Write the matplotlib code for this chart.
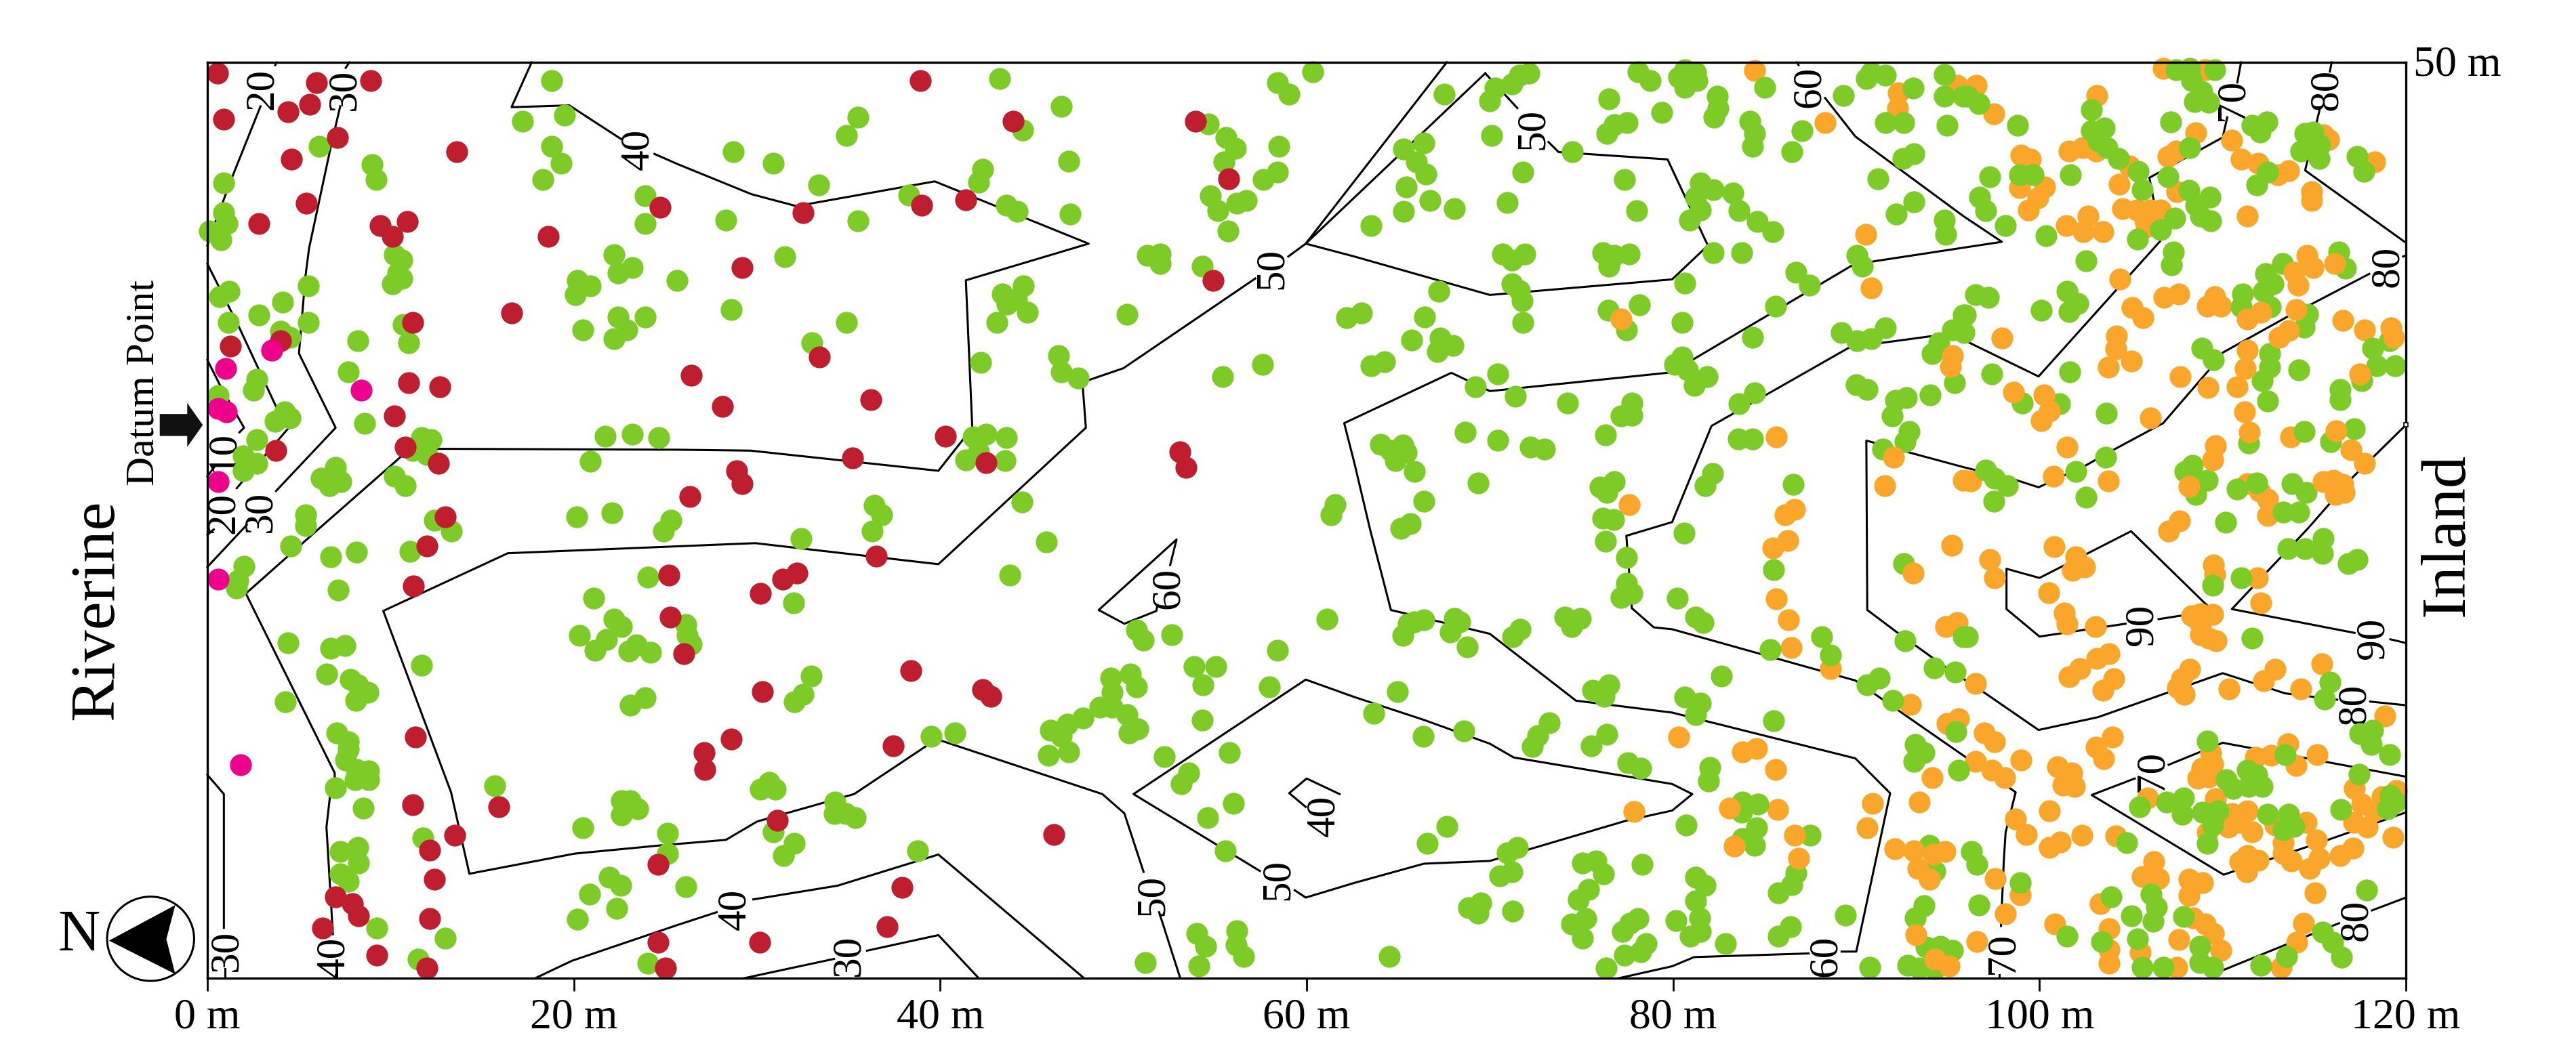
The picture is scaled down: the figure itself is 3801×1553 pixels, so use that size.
"""Tree positions over elevation contours, riverine to inland transect (0-120 m by 0-50 m)."""

import matplotlib

matplotlib.use("Agg")
import matplotlib.pyplot as plt
import numpy as np
from matplotlib.patches import Ellipse, Polygon

plt.rcParams["font.family"] = ["Liberation Serif", "DejaVu Serif"]

# ---- tree positions, metres along / across the plot ----
RED = [
    (.54, 49.4), (5.96, 48.9), (8.93, 49.0), (5.6, 47.7), (4.4, 47.3), (.9, 46.9), (7.1, 45.9), (4.6, 44.7),
    (13.6, 45.1), (5.4, 42.3), (2.8, 41.2), (9.45, 41.1), (10.9, 41.3), (10.1, 40.5), (24.7, 42.1), (18.6, 40.5),
    (16.6, 36.3), (11.2, 35.8), (4.0, 34.8), (1.25, 34.5), (11.0, 32.5), (12.7, 32.3), (10.2, 30.7), (3.75, 28.8),
    (10.8, 29.0), (12.6, 28.1), (13.0, 25.2), (12.0, 23.6), (25.2, 22.0), (11.25, 21.4), (25.25, 19.7), (26.0, 17.7),
    (11.35, 13.15), (11.2, 9.45), (15.9, 9.35), (13.5, 7.8), (12.15, 7.0), (24.6, 6.2), (12.4, 5.4), (7.0, 4.45),
    (7.9, 4.05), (8.25, 3.4), (6.3, 2.75), (12.15, 3.25), (9.25, 1.25), (12.0, .55), (24.6, 1.95), (25.0, .55),
    (38.9, 49.0), (44.0, 46.8), (53.95, 46.8), (55.75, 43.65), (32.5, 41.8), (39.0, 42.2), (41.4, 42.5), (29.2, 38.8),
    (33.4, 33.9), (26.4, 32.9), (28.1, 31.2), (36.2, 31.6), (40.3, 29.6), (35.2, 28.4), (42.5, 28.15), (28.9, 27.7),
    (29.2, 27.0), (26.35, 26.3), (54.9, 38.1), (53.1, 28.75), (53.4, 27.9), (36.5, 23.05), (32.2, 22.1), (31.4, 21.8),
    (30.2, 21.0), (38.4, 16.8), (30.3, 15.65), (42.3, 15.75), (42.75, 15.4), (28.6, 13.05), (27.1, 12.3), (27.15, 11.4),
    (37.45, 12.7), (31.1, 8.6), (46.2, 7.85), (37.9, 4.95), (37.1, 2.8), (30.15, 1.95),
]
PINK = [
    (3.5, 34.3), (1.0, 33.3), (8.4, 32.1), (.6, 31.1), (1.05, 30.9), (.6, 27.1), (.6, 21.8), (1.8, 11.65),
]
GREEN = [
    # 0-25 m
    (18.8, 49.0), (17.2, 46.8), (19.5, 47.1), (18.8, 45.4), (19.3, 44.5), (18.3, 43.6), (6.1, 45.4), (9.0, 44.4),
    (9.2, 43.6), (23.9, 42.7), (23.9, 41.2), (.9, 43.4), (.9, 41.8), (1.06, 41.2), (.1, 40.8), (.73, 40.3),
    (10.2, 39.5), (10.6, 39.2), (10.4, 38.5), (10.6, 38.2), (10.1, 37.9), (22.2, 39.5), (23.2, 38.8), (22.4, 38.5),
    (20.2, 38.1), (20.9, 37.8), (20.1, 37.3), (25.65, 38.1), (1.2, 37.5), (.66, 37.2), (5.5, 37.8), (4.1, 36.9),
    (2.8, 36.2), (1.15, 35.8), (5.5, 35.8), (4.0, 35.3), (4.5, 35.0), (10.7, 35.7), (11.0, 34.7), (8.2, 34.8),
    (22.4, 36.1), (23.9, 36.1), (22.9, 35.4), (20.5, 35.4), (22.2, 34.9), (2.7, 32.7), (2.5, 32.1), (7.7, 33.1),
    (.6, 31.8), (4.2, 30.9), (4.5, 30.6), (3.7, 30.4), (8.6, 30.3), (2.7, 29.4), (1.95, 28.5), (2.7, 28.1),
    (1.95, 27.7), (11.7, 29.5), (12.2, 29.4), (11.2, 28.8), (12.0, 28.6), (21.7, 29.6), (23.2, 29.7), (24.65, 29.5),
    (20.9, 28.2), (7.0, 27.9), (6.2, 27.3), (7.3, 27.1), (6.65, 26.9), (10.2, 27.4), (10.8, 26.9), (20.15, 25.2),
    (22.1, 25.4), (25.3, 25.0), (24.9, 24.4), (5.35, 25.3), (5.35, 24.7), (12.4, 25.0), (13.3, 24.4), (4.55, 23.6),
    (6.75, 23.0), (8.15, 23.25), (11.05, 23.3), (7.15, 21.2), (2.0, 22.5), (1.65, 21.7), (1.6, 21.3), (24.05, 21.9),
    (21.1, 20.75), (22.2, 19.6), (22.6, 19.2), (20.3, 18.7), (21.8, 18.5), (21.15, 17.9), (23.4, 18.2), (23.0, 17.85),
    (24.2, 17.8), (4.4, 18.3), (6.75, 18.0), (7.5, 18.15), (11.7, 17.1), (6.5, 16.6), (7.8, 16.3), (8.2, 16.0),
    (8.75, 15.6), (8.1, 15.15), (4.25, 15.1), (23.9, 15.3), (23.1, 14.9), (7.05, 13.4), (7.7, 12.9), (7.7, 12.5),
    (7.55, 11.9), (8.15, 11.4), (8.8, 11.3), (8.8, 10.85), (8.05, 10.85), (7.0, 10.4), (8.5, 9.3), (15.7, 10.5),
    (22.6, 9.7), (23.1, 9.7), (23.5, 9.25), (22.6, 8.9), (20.5, 8.2), (11.75, 7.65), (25.1, 7.9), (8.2, 7.15),
    (7.25, 6.9), (8.25, 6.3), (7.25, 5.7), (7.7, 5.3), (25.1, 6.8), (21.95, 5.5), (22.55, 5.05), (20.85, 4.6),
    (22.35, 3.8), (20.2, 3.2), (26.1, 5.0), (9.25, 2.75), (13.0, 2.2), (11.5, 1.05), (24.05, .8),
    # 25-62 m
    (43.25, 49.1), (46.6, 47.6), (58.4, 48.9), (59.05, 48.25), (60.35, 49.5), (35.5, 47.0), (34.9, 46.0), (28.7, 45.1),
    (30.9, 44.5), (33.35, 43.3), (44.5, 46.3), (47.0, 44.6), (54.65, 46.65), (55.6, 45.9), (56.1, 45.3), (55.5, 44.55),
    (58.5, 45.4), (58.4, 44.0), (57.65, 43.6), (42.3, 44.15), (42.1, 43.45), (38.3, 42.75), (43.6, 42.2), (44.2, 41.85),
    (47.1, 41.7), (54.75, 42.7), (55.15, 41.9), (56.7, 42.45), (56.2, 42.3), (55.7, 40.8), (28.3, 41.4), (35.5, 41.35),
    (31.5, 39.4), (51.3, 39.45), (52.0, 39.55), (52.0, 39.0), (54.3, 38.85), (44.55, 37.8), (43.4, 37.35), (44.15, 37.05),
    (43.65, 36.8), (44.75, 36.35), (43.1, 35.8), (28.6, 36.5), (34.9, 35.8), (33.0, 34.7), (50.2, 36.25), (62.2, 36.05),
    (42.2, 33.6), (46.45, 34.0), (46.6, 33.1), (47.55, 32.75), (55.4, 32.85), (57.6, 33.5), (41.8, 29.55), (42.5, 29.7),
    (43.6, 29.5), (42.1, 28.75), (41.4, 28.3), (43.55, 28.25), (44.45, 26.0), (61.55, 25.85), (61.35, 25.3), (36.4, 25.8),
    (36.8, 25.3), (36.3, 24.4), (32.4, 24.0), (45.8, 23.8), (26.1, 19.3), (26.2, 18.7), (26.4, 18.25), (43.8, 22.0),
    (32.0, 20.5), (32.95, 16.5), (32.5, 15.5), (32.05, 15.1), (50.7, 19.0), (51.1, 18.45), (52.65, 18.75), (61.1, 19.6),
    (58.4, 17.9), (49.3, 16.4), (50.4, 16.6), (50.7, 15.9), (49.4, 15.6), (53.85, 17.0), (55.05, 17.0), (54.35, 16.0),
    (57.95, 15.9), (54.3, 14.1), (48.7, 14.8), (49.4, 14.8), (47.8, 14.2), (50.2, 14.4), (46.95, 13.85), (46.0, 13.55),
    (46.6, 13.2), (50.8, 13.6), (50.3, 13.4), (47.0, 12.35), (45.9, 12.15), (52.25, 12.1), (55.8, 12.3), (39.5, 13.2),
    (40.8, 13.4), (30.65, 10.7), (30.2, 10.3), (31.0, 10.3), (53.55, 11.2), (53.15, 10.6), (56.0, 9.55), (54.6, 8.75),
    (34.25, 9.6), (34.2, 9.0), (34.85, 9.0), (35.35, 8.75), (30.9, 8.0), (32.05, 7.35), (31.45, 6.7), (55.55, 6.95),
    (38.75, 6.95), (54.0, 2.45), (54.5, 1.75), (56.2, 2.6), (56.15, 1.8), (56.55, 1.2), (51.2, .85), (54.1, .65),
    # 62-96 m, upper half
    (67.5, 48.25), (70.0, 47.9), (70.3, 48.6), (71.2, 48.8), (71.6, 49.3), (72.15, 49.4), (70.1, 46.0), (66.4, 45.6),
    (65.3, 45.25), (66.0, 44.55), (66.5, 43.9), (65.45, 43.2), (66.75, 42.45), (65.3, 41.85), (68.05, 42.0), (63.5, 41.1),
    (71.8, 44.0), (70.95, 42.35), (74.5, 45.1), (76.5, 48.0), (78.1, 49.5), (78.75, 49.0), (79.4, 47.25), (77.5, 46.7),
    (76.8, 46.6), (76.4, 46.1), (77.35, 43.6), (78.0, 41.9), (80.65, 49.6), (81.25, 49.45), (80.3, 49.2), (81.3, 49.0),
    (80.65, 48.65), (82.4, 48.15), (82.45, 47.5), (82.25, 47.0), (84.2, 46.8), (84.45, 46.1), (84.35, 45.4), (85.0, 48.65),
    (87.05, 46.25), (86.5, 45.1), (89.3, 48.2), (90.55, 49.1), (90.8, 49.45), (91.6, 49.3), (93.1, 48.6), (94.8, 49.35),
    (94.8, 48.15), (95.85, 48.15), (91.6, 46.7), (92.6, 46.7), (94.95, 46.55), (92.55, 44.75), (93.15, 45.0), (91.2, 43.65),
    (93.15, 42.4), (92.2, 41.7), (94.8, 41.4), (94.9, 40.6), (81.5, 43.4), (82.2, 43.05), (83.25, 42.85), (81.25, 42.65),
    (81.5, 41.95), (80.9, 41.4), (83.6, 41.9), (84.6, 41.3), (85.45, 40.75), (82.2, 39.6), (83.75, 39.6), (70.7, 39.55),
    (71.2, 39.2), (71.9, 39.55), (76.15, 39.6), (76.8, 39.45), (77.6, 39.55), (76.5, 38.85), (80.65, 37.95), (67.2, 37.5),
    (71.2, 37.9), (71.6, 37.55), (71.75, 37.0), (71.8, 35.8), (63.0, 36.3), (66.45, 36.1), (76.45, 36.45), (78.15, 36.75),
    (77.45, 35.4), (80.5, 35.8), (65.75, 34.85), (67.3, 34.95), (68.0, 34.55), (67.15, 34.2), (63.5, 33.45), (64.25, 33.65),
    (70.45, 33.0), (69.2, 32.3), (71.4, 31.75), (74.25, 31.4), (80.1, 33.5), (80.5, 33.9), (80.8, 33.2), (81.85, 32.85),
    (81.15, 32.35), (77.75, 31.4), (77.75, 30.75), (77.15, 30.7), (84.35, 35.0), (85.6, 36.7), (86.7, 38.55), (87.45, 37.85),
    (90.05, 39.45), (90.35, 38.85), (89.2, 35.25), (90.05, 34.8), (90.8, 34.9), (91.6, 35.5), (95.85, 36.2), (95.25, 35.4),
    (94.5, 34.7), (94.15, 34.1), (95.35, 32.5), (90.0, 32.4), (90.6, 32.15), (94.05, 31.85), (92.75, 31.7), (92.15, 31.55),
    (91.95, 30.7), (92.9, 29.85), (92.65, 29.3), (91.45, 28.9), (84.45, 31.95), (83.6, 31.35), (83.55, 29.45), (84.35, 29.45),
    (68.65, 29.8), (70.45, 29.35), (72.2, 29.0), (73.0, 28.9), (76.3, 29.65), (64.05, 29.15), (65.25, 29.1), (64.6, 28.8),
    (65.45, 28.7), (64.85, 28.25), (65.9, 27.65), (69.35, 27.05), (66.4, 26.05), (65.65, 24.8), (65.15, 24.55), (82.15, 27.55),
    (81.75, 26.9), (86.55, 26.95), (76.8, 27.1), (76.0, 26.8), (76.4, 26.5), (76.15, 25.1), (76.75, 25.05), (80.6, 24.3),
    (76.3, 23.85),
    # 62-96 m, lower half
    (77.45, 22.95), (85.5, 22.3), (77.45, 21.55), (77.75, 21.0), (77.15, 20.8), (80.25, 20.75), (92.6, 22.65), (66.4, 19.55),
    (65.55, 19.35), (65.9, 19.45), (65.25, 18.7), (68.05, 19.65), (68.35, 19.45), (67.85, 18.9), (68.75, 18.1), (71.65, 19.05),
    (71.25, 18.65), (74.1, 19.7), (74.95, 19.65), (74.45, 19.2), (81.25, 19.7), (81.65, 19.4), (85.3, 17.95), (88.1, 18.65),
    (88.6, 17.65), (92.65, 18.4), (94.25, 16.95), (95.4, 16.7), (82.65, 16.5), (76.5, 16.0), (75.6, 15.7), (76.25, 15.4),
    (80.65, 15.35), (81.5, 15.0), (81.25, 14.4), (85.5, 14.05), (91.25, 16.4), (90.6, 16.0), (92.0, 15.15), (95.85, 18.65),
    (64.95, 15.65), (63.65, 14.45), (66.35, 13.2), (68.6, 13.5), (73.25, 13.95), (72.6, 13.25), (72.3, 12.65), (76.4, 13.3),
    (75.55, 12.7), (77.55, 11.75), (78.25, 11.45), (82.0, 11.5), (81.95, 10.75), (93.2, 12.75), (93.7, 12.3), (93.15, 11.85),
    (95.6, 11.35), (95.45, 13.45), (83.8, 9.6), (84.65, 9.5), (83.75, 9.05), (80.7, 8.35), (67.65, 8.3), (66.6, 7.35),
    (71.5, 7.15), (70.95, 6.85), (84.55, 8.2), (83.8, 7.6), (84.45, 7.25), (87.5, 7.8), (94.0, 7.25), (75.05, 6.3),
    (75.8, 6.4), (76.2, 5.7), (78.3, 6.2), (71.2, 5.8), (70.55, 5.6), (86.7, 5.75), (94.3, 5.85), (81.25, 5.5),
    (81.75, 5.05), (86.5, 5.1), (85.75, 4.65), (75.4, 4.85), (74.85, 4.3), (69.5, 4.1), (68.85, 3.85), (69.35, 3.55),
    (71.25, 3.65), (81.25, 4.2), (81.45, 3.3), (93.7, 3.95), (93.2, 3.3), (89.4, 3.45), (75.25, 3.25), (74.45, 2.95),
    (75.05, 2.2), (78.1, 3.25), (77.65, 3.0), (77.25, 2.55), (80.15, 3.15), (81.5, 2.55), (80.95, 2.3), (86.4, 2.8),
    (85.75, 2.3), (82.85, 1.9), (78.55, 1.9), (78.25, 1.45), (77.35, 1.25), (64.5, 1.2), (76.35, .55), (90.75, .6),
    (92.8, .7), (93.45, .55), (93.8, 1.7), (94.6, 1.75), (95.25, 1.5), (94.3, .5),
    # 96-120 m, upper half
    (96.05, 48.15), (96.7, 47.75), (98.8, 46.55), (102.85, 47.4), (107.45, 49.6), (108.2, 49.65), (109.55, 49.6), (108.3, 49.0),
    (108.85, 48.4), (108.45, 47.85), (109.25, 47.8), (107.15, 46.75), (103.55, 46.4), (102.85, 46.25), (103.2, 45.7), (103.7, 45.35),
    (104.3, 44.75), (108.2, 45.35), (111.6, 46.55), (112.4, 46.75), (112.05, 46.2), (114.5, 46.1), (114.95, 46.2), (115.3, 45.5),
    (114.25, 45.15), (115.25, 44.75), (117.35, 44.85), (117.7, 44.05), (97.3, 43.75), (98.9, 43.85), (99.65, 43.85), (101.7, 43.85),
    (105.4, 44.05), (105.6, 43.05), (107.0, 43.75), (112.45, 44.0), (111.85, 43.3), (96.75, 42.65), (97.05, 41.9), (98.15, 41.1),
    (108.15, 43.0), (109.3, 42.65), (108.55, 42.2), (109.35, 41.35), (108.8, 41.6), (107.4, 41.5), (106.6, 40.85), (105.35, 40.35),
    (100.35, 40.55), (102.55, 39.15), (107.3, 39.65), (107.2, 38.95), (116.35, 39.65), (116.7, 38.75), (113.25, 39.0), (112.35, 38.45),
    (112.75, 37.9), (112.25, 37.5), (112.6, 36.65), (111.1, 37.35), (111.0, 36.65), (101.5, 37.5), (102.1, 36.85), (101.6, 36.4),
    (100.1, 36.45), (96.5, 37.3), (97.2, 37.15), (95.95, 36.2), (95.9, 35.25), (114.65, 36.25), (114.45, 35.55), (108.85, 34.4),
    (109.5, 33.75), (112.55, 34.1), (112.55, 33.35), (112.15, 32.6), (114.15, 33.2), (119.1, 34.8), (118.2, 34.4), (119.4, 33.45),
    (118.4, 33.45), (117.6, 32.6), (97.4, 33.0), (101.65, 33.1), (116.4, 32.15), (116.4, 31.6), (112.45, 31.5), (99.05, 31.4),
    (101.1, 31.35), (103.65, 30.85), (114.45, 29.85), (117.2, 30.0), (115.9, 29.3), (111.4, 29.2), (103.6, 28.45), (102.0, 27.65),
    (97.05, 27.75), (97.55, 27.3), (98.25, 26.9), (108.35, 28.0), (107.95, 27.65), (109.15, 27.2), (108.6, 27.0), (108.55, 26.4),
    (110.8, 26.7), (111.85, 27.05), (113.8, 27.0), (114.55, 26.5), (113.3, 25.45), (114.15, 25.45), (97.5, 26.05), (102.55, 26.25),
    (110.15, 24.9),
    # 96-120 m, lower half
    (113.55, 23.45), (114.5, 23.45), (115.5, 24.0), (115.45, 23.2), (116.85, 22.65), (117.35, 22.85), (111.0, 21.85), (109.45, 21.45),
    (96.05, 18.65), (111.6, 18.55), (115.85, 16.15), (115.55, 15.25), (118.2, 13.55), (117.5, 13.35), (118.1, 12.75), (119.1, 12.2),
    (109.15, 12.95), (113.4, 12.2), (117.45, 11.15), (111.35, 11.35), (111.85, 11.1), (112.15, 10.45), (111.4, 10.45), (110.55, 10.35),
    (110.2, 10.85), (107.85, 9.85), (106.95, 9.6), (107.8, 8.95), (105.45, 9.35), (108.9, 9.05), (109.75, 9.15), (109.45, 8.35),
    (112.45, 8.95), (113.6, 8.95), (113.9, 8.3), (113.3, 8.1), (116.45, 9.2), (119.15, 10.0), (119.45, 9.6), (119.0, 9.25),
    (109.15, 7.35), (104.75, 7.4), (96.3, 6.9), (96.6, 6.2), (98.95, 5.2), (96.7, 4.0), (103.9, 4.45), (106.1, 4.6),
    (106.4, 3.9), (106.2, 3.1), (105.0, 3.4), (107.85, 3.35), (101.5, 2.3), (103.4, 2.0), (105.35, 2.15), (108.75, 1.75),
    (108.75, .85), (109.45, .6), (105.6, .6), (106.75, .6), (112.1, .7), (113.5, 1.2), (115.45, 2.5), (116.0, 1.95),
    (116.5, 1.15), (117.85, 4.8),
]
# oranges that sit under the greens
ORANGE = [
    (84.45, 49.55), (88.3, 46.7), (92.3, 48.35), (92.25, 47.5), (95.5, 48.75), (90.5, 40.6), (90.8, 37.7), (85.65, 29.55),
    (91.55, 26.9), (77.6, 25.85), (86.65, 25.6), (86.1, 25.3), (95.85, 27.2), (86.25, 23.9), (85.45, 23.5), (95.2, 23.65),
    (85.65, 20.7), (86.3, 19.55), (86.45, 18.05), (94.9, 19.2), (95.5, 19.4), (88.6, 16.9), (92.95, 14.95), (94.95, 13.9),
    (95.6, 14.15), (80.3, 13.15), (83.8, 12.35), (84.55, 12.55), (85.6, 11.4), (94.15, 10.95), (90.9, 9.55), (93.45, 9.6),
    (85.7, 9.2), (77.85, 9.1), (90.6, 8.2), (92.1, 7.05),
    (106.75, 49.65), (109.05, 49.6), (96.55, 48.75), (97.5, 47.2), (103.15, 48.2), (108.55, 46.15), (110.5, 45.75), (101.6, 45.15),
    (102.35, 45.35), (103.1, 45.15), (99.0, 44.95), (99.5, 44.7), (115.8, 45.8), (115.5, 46.05), (118.3, 44.55), (107.45, 45.15),
    (107.0, 44.85), (111.0, 44.7), (111.95, 44.5), (113.6, 44.1), (113.0, 43.85), (104.9, 44.35), (104.35, 43.35), (98.9, 43.15),
    (100.3, 43.2), (99.9, 42.6), (99.4, 41.95), (107.5, 42.95), (114.85, 42.95), (114.85, 42.45), (104.55, 42.0), (105.3, 41.95),
    (106.05, 41.95), (106.6, 41.95), (105.75, 41.4), (105.85, 41.0), (102.65, 41.6), (101.45, 41.1), (102.4, 40.75), (103.45, 40.75),
    (111.35, 41.6), (104.4, 38.15), (106.8, 37.15), (107.6, 37.35), (109.55, 37.2), (109.15, 36.7), (109.9, 36.7), (105.05, 36.6),
    (105.65, 36.05), (116.55, 35.9), (117.75, 35.4), (97.95, 34.95), (104.2, 35.05), (104.15, 34.35), (105.0, 33.7), (103.75, 33.35),
    (107.7, 32.85), (109.2, 32.25), (110.8, 32.3), (111.2, 30.9), (106.05, 30.6), (113.7, 29.55), (101.5, 29.0), (100.75, 27.4),
    (96.25, 27.15), (103.75, 27.15), (111.35, 27.0), (112.0, 26.6), (112.45, 26.15), (112.45, 25.25), (107.65, 24.95), (107.05, 24.4),
    (100.8, 23.55), (102.0, 23.0), (97.3, 22.85), (97.55, 21.85), (102.45, 22.45), (101.8, 22.25), (109.5, 22.55), (109.55, 22.05),
    (111.9, 21.85), (100.5, 21.05), (112.1, 20.5), (101.35, 19.95), (101.5, 19.35), (103.05, 19.2), (108.3, 19.8), (108.8, 19.9),
    (109.45, 19.85), (108.8, 19.3), (108.8, 18.75), (109.25, 18.55), (109.65, 18.4), (103.8, 17.7), (103.15, 17.45), (102.2, 16.9),
    (101.6, 16.45), (104.05, 16.35), (103.45, 15.7), (96.5, 16.1), (108.2, 16.85), (107.75, 16.35), (107.55, 15.85), (107.9, 15.5),
    (112.85, 16.85), (112.25, 16.25), (110.35, 15.8), (115.4, 17.15), (114.25, 15.8), (118.85, 14.3), (97.0, 13.4), (97.55, 12.9),
    (104.0, 13.15), (103.1, 12.6), (103.5, 12.0), (96.5, 11.85), (97.4, 11.35), (98.1, 10.95), (99.0, 11.9), (101.0, 11.55),
    (101.75, 11.2), (101.3, 10.55), (101.9, 10.45), (109.35, 12.3), (109.45, 11.7), (108.85, 11.45), (108.65, 10.9), (109.25, 11.0),
    (111.8, 12.05), (112.65, 12.15), (113.55, 12.8), (114.0, 11.6), (115.15, 12.2), (117.2, 10.35), (119.5, 10.25), (118.7, 9.9),
    (117.6, 9.5), (118.25, 9.15), (105.9, 9.85), (109.6, 9.8), (100.55, 9.15), (98.7, 8.7), (99.3, 7.85), (102.3, 7.8),
    (104.15, 7.75), (101.15, 7.45), (100.55, 7.15), (110.5, 9.0), (111.35, 9.15), (110.95, 8.5), (110.3, 8.25), (111.6, 8.0),
    (109.15, 7.95), (112.85, 8.35), (114.55, 8.5), (117.15, 8.5), (117.9, 8.25), (119.3, 7.7), (115.1, 7.55), (113.3, 7.4),
    (117.1, 7.1), (116.4, 6.7), (115.25, 6.55), (114.75, 6.0), (113.3, 6.8), (113.75, 6.4), (111.35, 6.7), (110.95, 6.35),
    (111.95, 6.45), (111.3, 5.8), (106.25, 6.35), (105.6, 5.55), (106.5, 5.45), (108.15, 5.4), (108.9, 5.2), (108.15, 4.5),
    (97.6, 5.45), (98.95, 4.55), (98.15, 3.5), (115.05, 4.65), (103.3, 4.05), (100.85, 2.95), (103.8, 2.7), (108.4, 3.3),
    (109.05, 2.95), (109.5, 2.45), (107.6, 2.1), (114.4, 3.0), (114.05, 1.95), (96.6, 2.0), (109.9, 1.5), (103.8, 1.55),
    (105.5, 1.4), (103.8, .8), (107.5, .6), (113.2, .6),
]
# oranges drawn over the greens
ORANGE_TOP = [
    (77.15, 36.0), (95.25, 34.0), (95.15, 33.4), (92.05, 28.45), (93.1, 22.1), (83.1, 9.3), (83.35, 7.2), (86.65, 7.8),
    (86.85, 6.55), (93.15, 6.95), (94.2, 6.75), (94.85, 6.9), (93.35, 6.0), (94.0, 5.4), (93.25, 2.35), (94.3, 1.05),
    (95.05, .65), (114.6, 39.45), (116.1, 39.0), (113.9, 38.55), (114.95, 38.8), (114.1, 37.85), (112.1, 36.35), (111.35, 36.0),
    (114.0, 36.5), (119.2, 35.5), (119.35, 35.0), (113.6, 35.35), (113.1, 35.0), (111.35, 34.3), (111.25, 33.3), (117.5, 33.0),
    (98.6, 32.0), (100.25, 31.85), (100.55, 30.95), (100.1, 30.45), (111.45, 29.8), (116.2, 29.9), (117.0, 28.85), (109.6, 29.05),
    (109.45, 28.3), (117.75, 28.1), (108.15, 26.85), (115.5, 27.1), (116.05, 27.2), (116.55, 26.95), (116.15, 26.4), (116.65, 26.5),
]

# ---- elevation contours, one polyline per piece between labels ----
CONTOURS = [
    [(3.8, 50), (3.7, 49.85)],
    [(2.9, 47.6), (1.4, 43.85), (.4, 41.2), (0, 40)],
    [(7.75, 50), (7.55, 49.7)],
    [(7.25, 47.6), (6.75, 45.45), (5.55, 39.85), (5.35, 38.3), (5.0, 34.1), (7.0, 30.05), (3.75, 26.6)],
    [(2.15, 24.75), (0, 22.45)],
    [(0, 39.0), (1.75, 35.5), (3.75, 31.2), (4.4, 30.0), (1.6, 26.75)],
    [(.35, 24.5), (0, 24.2)],
    [(0, 33.75), (.7, 32.35), (2.0, 30.05), (1.75, 29.8)],
    [(.45, 28), (0, 27.4)],
    [(17.7, 50), (16.6, 47.55), (19.75, 47.65), (22.6, 45.8)],
    [(24.4, 45.0), (25.65, 44.45), (29.7, 42.8), (32.15, 42.15), (39.7, 43.5), (48.1, 40.1), (41.4, 38.1), (41.75, 30.05),
     (39.9, 27.7), (29.65, 28.8), (25.65, 28.85), (12.6, 28.9), (10.6, 28.5), (6.1, 24.55), (2.1, 21.0), (6.95, 11.2),
     (6.95, 10.7), (6.7, 10), (6.5, 8.25), (6.85, 2.4)],
    [(7.0, .2), (7.0, 0)],
    [(0, 11.1), (.9, 10.05), (.9, 2.75)],
    [(.95, .5), (.95, 0)],
    [(69.75, 49.4), (71.5, 47.5)],
    [(73.2, 45.65), (73.75, 45.1), (79.7, 44.7), (81.9, 40.0), (79.95, 38.15), (70.0, 37.3), (62.6, 39.4), (59.95, 40.1),
     (69.75, 49.4)],
    [(67.65, 50), (59.95, 40.1), (59.0, 39.4)],
    [(57.2, 38.2), (50.0, 33.3), (48.1, 32.65), (47.75, 32.7), (47.95, 30.05), (39.9, 22.6), (29.9, 23.75), (16.4, 23.2),
     (9.6, 20.05), (13.3, 10.15), (14.3, 5.7), (20.05, 6.8), (24.75, 7.25), (28.3, 7.55), (30.0, 8.55), (35.3, 10.05),
     (39.8, 13.05), (48.85, 10.05), (50.05, 9.0), (51.1, 5.8)],
    [(51.95, 3.6), (53.1, 0)],
    [(17.9, 0), (19.9, .95), (22.85, 1.95), (25.65, 2.9), (27.8, 3.6)],
    [(29.8, 4.3), (34.4, 5.05), (39.9, 6.75), (47.85, 0)],
    [(29.3, 0), (34.2, 1.05)],
    [(36.0, 1.5), (39.9, 2.35), (42.1, 0)],
    [(52.55, 22.55), (52.9, 23.95), (48.65, 20.1), (50.05, 19.35), (51.8, 20.05), (51.85, 20.35)],
    [(59.35, 4.8), (59.95, 4.4), (62.6, 5.2), (66.4, 6.25), (70.0, 6.4), (77.45, 8.6), (79.95, 9.15), (81.05, 10.05),
     (79.95, 10.6), (71.3, 12.05), (70.0, 12.8), (66.4, 14.1), (62.6, 15.35), (59.95, 16.3), (50.55, 10.05), (57.45, 5.85)],
    [(61.8, 10.05), (60.0, 10.9), (59.05, 10.1), (59.95, 9.35)],
    [(86.75, 50), (86.85, 49.85)],
    [(88.3, 48.05), (89.95, 45.95), (95.85, 41.6), (97.95, 40.2), (91.05, 39.15), (89.75, 38.9), (81.05, 33.75), (79.7, 33.05),
     (70.0, 32.05), (67.9, 33.05), (62.05, 30.3), (62.6, 28.15), (63.45, 24.55), (64.6, 20.1), (70.0, 18.8), (74.7, 15.15),
     (79.95, 14.5), (89.95, 12.0), (91.85, 10.1), (90.0, 1.45), (89.2, 1.45)],
    [(87.4, 1.35), (81.15, 1.15), (79.95, .65), (77.05, 0)],
    [(111.0, 50), (110.8, 48.9)],
    [(110.25, 47.0), (110.0, 45.9), (108.0, 44.8), (106.0, 43.7), (106.25, 42.4), (106.6, 40.25), (104.35, 37.75), (99.95, 32.85),
     (95.95, 34.8), (94.85, 35.15), (89.65, 34.45), (82.1, 30.15), (79.95, 24.9), (77.45, 24.15), (77.6, 22.2), (77.75, 20.2),
     (78.95, 19.15), (79.95, 19.05), (89.95, 16.25), (95.85, 12.15), (98.7, 10.15), (98.15, 7.95), (98.05, 6.35), (97.9, 2.85)],
    [(97.8, .2), (97.8, 0)],
    [(115.95, 50), (115.85, 49.5)],
    [(115.3, 47.45), (114.5, 44.1), (120, 40.15)],
    [(120, 39.45), (119.85, 39.4)],
    [(118.0, 38.45), (114.85, 36.8), (113.6, 36.15), (110.0, 34.15), (109.25, 33.2), (106.75, 30.3), (104.05, 28.85), (102.45, 27.95),
     (99.95, 26.8), (98.7, 27.2), (95.85, 27.9), (92.7, 28.75), (90.55, 29.35), (90.6, 20.1), (92.2, 18.9), (94.85, 17.0),
     (96.9, 15.65), (99.95, 13.55), (103.2, 14.25), (110.0, 16.65), (113.4, 15.55), (116.25, 15.2)],
    [(118.05, 15.1), (120, 14.9)],
    [(120, 30.2), (117.1, 27.35), (114.65, 24.55), (110.5, 20.15), (117.2, 18.85)],
    [(119.15, 18.5), (120, 18.3)],
    [(104.7, 19.35), (100.0, 18.65), (98.2, 20.15), (98.2, 22.35), (100.0, 21.85), (105.0, 24.4), (109.15, 20.35)],
    [(106.5, 19.6), (109.05, 20.0)],
    [(120, 11.0), (110.0, 12.85), (107.05, 11.65)],
    [(105.2, 10.9), (102.85, 10.0), (110.05, 5.65), (115.6, 7.5), (120, 9.05)],
    [(120, 4.4), (118.15, 3.7)],
    [(116.35, 3.0), (113.5, 1.85), (110.05, .45), (109.45, 0)],
]
CONTOUR_LABELS = [
    (3.0, 48.55, "20"), (7.5, 48.5, "30"), (23.5, 45.25, "40"), (58.1, 38.75, "50"), (.85, 28.75, "10"), (.9, 25.4, "20"),
    (2.9, 25.45, "30"), (1.05, 1.5, "30"), (6.9, 1.15, "40"), (28.8, 3.75, "40"), (35.0, 1.25, "30"), (51.6, 4.55, "50"),
    (52.45, 21.3, "60"), (58.45, 5.4, "50"), (60.95, 8.85, "40"), (72.35, 46.35, "50"), (87.45, 48.65, "60"), (88.35, 1.2, "60"),
    (110.55, 47.95, "70"), (115.7, 48.5, "80"), (119.0, 38.85, "80"), (105.6, 19.3, "90"), (118.2, 18.55, "90"), (117.2, 14.95, "80"),
    (106.15, 11.3, "70"), (117.3, 3.15, "80"), (98.0, 1.35, "70"),
]

X_TICKS = [0, 20, 40, 60, 80, 100, 120]
COLORS = {"green": "#7DCB27", "red": "#BE1E2D", "pink": "#EC008C", "orange": "#F9A62B"}
MARKER = 540  # about 32 px across at dpi 100


def dots(ax, points, color, z):
    pts = np.array(points)
    ax.scatter(pts[:, 0], pts[:, 1], s=MARKER, c=color, linewidths=0, clip_on=False, zorder=z)


def main() -> None:
    fig = plt.figure(figsize=(38.01, 15.53), dpi=100)
    ax = fig.add_axes([306 / 3801, 109 / 1553, 3244 / 3801, 1352 / 1553])
    ax.set_xlim(0, 120)
    ax.set_ylim(0, 50)

    for line in CONTOURS:
        xy = np.array(line)
        ax.plot(xy[:, 0], xy[:, 1], color="black", lw=2.2, clip_on=False, zorder=2)
    for x, y, text in CONTOUR_LABELS:
        ax.text(x, y, text, rotation=90, fontsize=44, ha="center", va="center", zorder=2.5)

    dots(ax, ORANGE, COLORS["orange"], 3)
    dots(ax, GREEN, COLORS["green"], 4)
    dots(ax, ORANGE_TOP, COLORS["orange"], 5)
    dots(ax, RED, COLORS["red"], 6)
    dots(ax, PINK, COLORS["pink"], 7)

    # ---- frame and ticks ----
    for spine in ax.spines.values():
        spine.set_linewidth(2.4)
        spine.set_zorder(8)
    ax.set_xticks(X_TICKS, [f"{v} m" for v in X_TICKS], fontsize=46)
    ax.set_yticks([])
    ax.tick_params(axis="x", length=14, width=2, pad=7)
    ax.plot([120], [30.2], "s", ms=5, mfc="white", mec="black", mew=1.2, clip_on=False, zorder=9)
    ax.text(120.4, 49.85, "50 m", fontsize=46, ha="left", va="center", clip_on=False)

    # ---- side annotations ----
    ax.text(-6.0, 20.1, "Riverine", rotation=90, fontsize=68, ha="center", va="center")
    ax.text(122.3, 24.2, "Inland", rotation=90, fontsize=68, ha="center", va="center")
    ax.text(-3.45, 32.5, "Datum Point", rotation=90, fontsize=43, ha="center", va="center")
    ax.add_patch(Polygon([(-2.6, 30.8), (-1.1, 30.8), (-1.1, 31.4), (-.25, 30.2), (-1.1, 29.0), (-1.1, 29.6), (-2.6, 29.6)],
                         closed=True, fc="#111111", ec="none", clip_on=False))

    # north symbol
    ax.add_patch(Ellipse((-3.1, 2.15), 4.75, 4.6, fc="white", ec="black", lw=2.2, clip_on=False))
    ax.add_patch(Polygon([(-5.37, 2.05), (-1.75, 3.99), (-2.24, 2.13), (-1.75, .22)], closed=True, fc="black", ec="none", clip_on=False))
    ax.text(-7.0, 2.3, "N", fontsize=62, ha="center", va="center")

    fig.savefig("out.png", dpi=100)
    plt.close(fig)


if __name__ == "__main__":
    main()
